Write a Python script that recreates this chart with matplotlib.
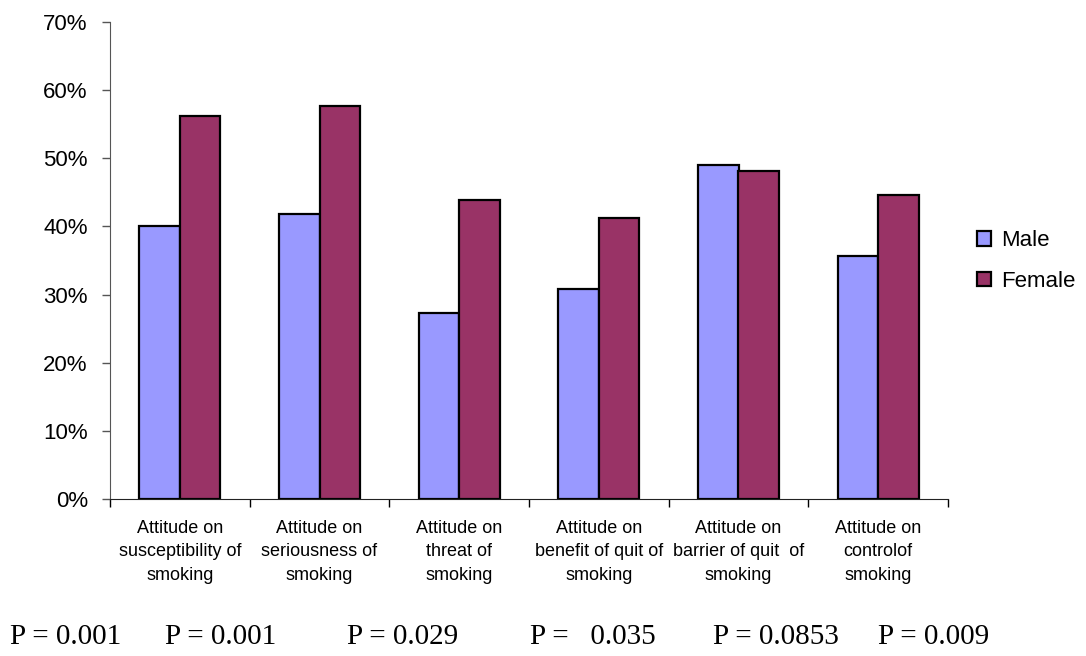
import matplotlib
matplotlib.use("Agg")
import matplotlib.pyplot as plt
import numpy as np
from matplotlib.ticker import PercentFormatter

categories = [
    "Attitude on\nsusceptibility of\nsmoking",
    "Attitude on\nseriousness of\nsmoking",
    "Attitude on\nthreat of\nsmoking",
    "Attitude on\nbenefit of quit of\nsmoking",
    "Attitude on\nbarrier of quit  of\nsmoking",
    "Attitude on\ncontrolof\nsmoking",
]
male = [40.1, 41.8, 27.3, 30.8, 49.0, 35.7]
female = [56.2, 57.7, 43.9, 41.3, 48.2, 44.6]
p_labels = ["P = 0.001", "P = 0.001", "P = 0.029", "P =   0.035", "P = 0.0853", "P = 0.009"]
p_xpos = [10, 165, 347, 530, 713, 878]  # pixel positions of the p-value texts

W, H = 1086, 656
fig = plt.figure(figsize=(W / 100, H / 100), dpi=100)
ax = fig.add_axes([110 / W, 1 - 499 / H, (948 - 110) / W, (499 - 22) / H])

x = np.arange(len(categories))
bw = 0.29
ax.bar(x - bw / 2, male, bw, color="#9999FF", edgecolor="black", linewidth=1.6, label="Male")
ax.bar(x + bw / 2, female, bw, color="#993366", edgecolor="black", linewidth=1.6, label="Female")

ax.set_xlim(-0.5, len(categories) - 0.5)
ax.set_ylim(0, 70)
ax.set_yticks(np.arange(0, 71, 10))
ax.yaxis.set_major_formatter(PercentFormatter(decimals=0))
ax.tick_params(axis="y", labelsize=16, length=6, width=1, direction="out", pad=10, color="#555555")
for lab in ax.get_yticklabels():
    lab.set_fontfamily("Liberation Sans")

ax.set_xticks(x)
ax.set_xticklabels(categories, fontsize=13, fontfamily="Liberation Sans", linespacing=1.5)
ax.tick_params(axis="x", length=0, pad=15)
ax.set_xticks(np.arange(len(categories) + 1) - 0.5, minor=True)
ax.tick_params(axis="x", which="minor", length=6, width=1, direction="out")

for s in ["top", "right"]:
    ax.spines[s].set_visible(False)
ax.spines["left"].set_color("#555555")
ax.spines["bottom"].set_color("#222222")

leg = fig.legend(loc="center left", bbox_to_anchor=(977 / W, 1 - 261 / H), frameon=False,
                 prop={"family": "Liberation Sans", "size": 16},
                 borderpad=0, borderaxespad=0,
                 handlelength=0.63, handleheight=0.63, handletextpad=0.45, labelspacing=0.88)
for h in leg.legend_handles:
    h.set_linewidth(1.6)

for lbl, px in zip(p_labels, p_xpos):
    fig.text(px / W, 1 - 637 / H, lbl, fontfamily="Liberation Serif", fontsize=21,
             ha="left", va="center")

fig.savefig("out.png", dpi=100)
